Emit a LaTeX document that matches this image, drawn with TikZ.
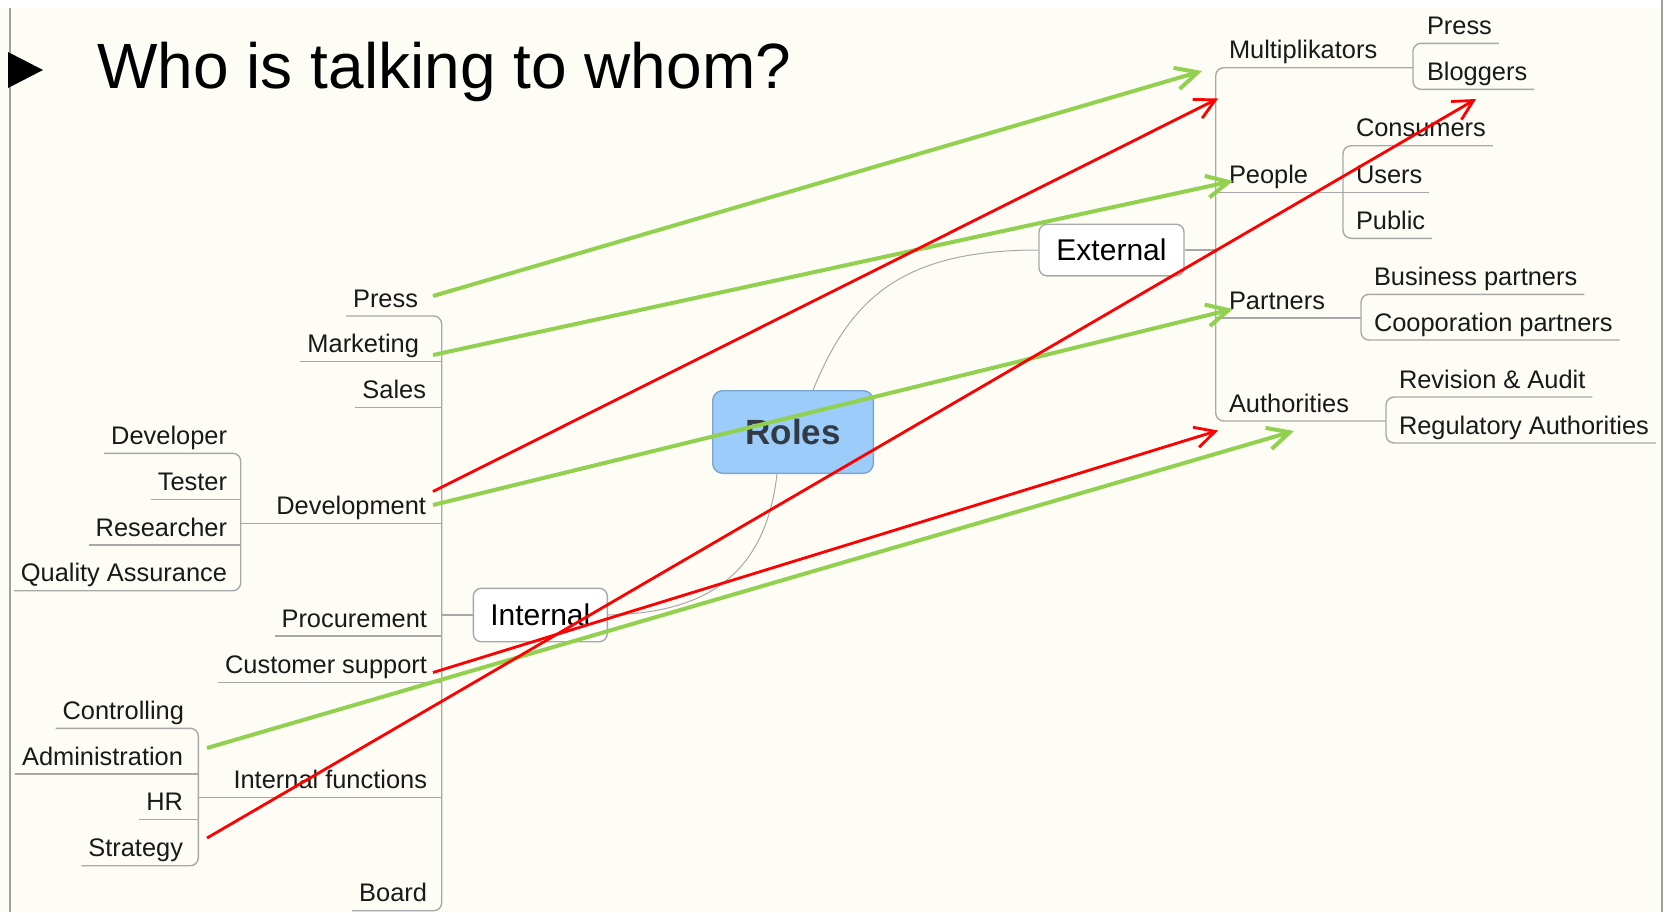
\documentclass[tikz,border=0pt]{standalone}
\usepackage{fontspec}
\setmainfont{Liberation Sans}
\usetikzlibrary{arrows.meta}
\definecolor{slidebg}{RGB}{253,253,246}
\definecolor{slideedge}{RGB}{160,160,160}
\definecolor{arrowgreen}{RGB}{146,208,80}
\definecolor{arrowred}{RGB}{255,0,0}
\definecolor{branchgray}{RGB}{168,168,168}
\definecolor{rolesfill}{RGB}{155,204,250}
\definecolor{rolesdraw}{RGB}{125,165,205}
\definecolor{rolestext}{RGB}{50,58,68}
\begin{document}
\begin{tikzpicture}[x=0.5pt,y=-0.5pt,
  lbl/.style={inner xsep=3.5pt, inner ysep=4.5pt, outer sep=0pt, text depth=0pt,
              font=\fontsize{12.7}{15}\selectfont, text=black!90},
  lleft/.style={lbl, anchor=south east},
  lright/.style={lbl, anchor=south west},
  branch/.style={draw=branchgray, line width=0.7pt},
  bracket/.style={branch, rounded corners=4pt},
  linkcurve/.style={draw=branchgray, line width=0.5pt},
  topicbox/.style={draw=branchgray, fill=white, rounded corners=4pt, line width=0.7pt,
                   font=\fontsize{15}{18}\selectfont, inner sep=0pt},
  rootbox/.style={draw=rolesdraw, fill=rolesfill, rounded corners=5pt, line width=0.7pt,
                  font=\fontsize{17.5}{21}\selectfont\bfseries, text=rolestext, inner sep=0pt,
                  minimum width=80.3pt, minimum height=41.3pt},
  greenarrow/.style={draw=arrowgreen, line width=2pt,
                     -{Straight Barb[length=11pt,width=11pt]}},
  redarrow/.style={draw=arrowred, line width=1.4pt,
                   -{Straight Barb[length=10pt,width=10.5pt]}}
]
\useasboundingbox (0,0) rectangle (1664,912);
% slide background and frame
\fill[white] (0,0) rectangle (1664,912);
\fill[slidebg] (0,8) rectangle (1664,912);
\draw[slideedge, line width=0.75pt] (10,8) -- (10,912);
\draw[slideedge, line width=0.75pt] (1662,0) -- (1662,912);

% heading
\fill[black] (8,52) -- (43,70) -- (8,88) -- cycle;
\node[anchor=base west, inner sep=0pt, font=\fontsize{32}{38}\selectfont] (title) at (97,88.5) {Who is talking to whom?};

% central topics
\node[rootbox] (roles) at (793,432) {Roles};
\node[topicbox, minimum width=72.5pt, minimum height=25.8pt] (external) at (1111.5,250) {External};
\node[topicbox, minimum width=67pt, minimum height=26.7pt] (internal) at (540.3,615) {Internal};

\draw[linkcurve] ([xshift=10pt]roles.north) .. controls (850,300) and (900,250) .. (external.west);
\draw[linkcurve] ([xshift=-8pt]roles.south) .. controls (765,580) and (700,613) .. (internal.east);

% internal branch
\node[lleft] (pressL)      at (425,316)   {Press};
\node[lleft] (marketing)   at (426,361.7) {Marketing};
\node[lleft] (sales)       at (433,407.3) {Sales};
\node[lleft] (development) at (433,523.3) {Development};
\node[lleft] (procurement) at (434,636)   {Procurement};
\node[lleft] (custsupport) at (434,682.3) {Customer support};
\node[lleft] (intfunc)     at (434,797.7) {Internal functions};
\node[lleft] (board)       at (434,910.7) {Board};

\node[lleft] (developer)  at (234,453.3) {Developer};
\node[lleft] (tester)     at (234,499.3) {Tester};
\node[lleft] (researcher) at (234,545)   {Researcher};
\node[lleft] (qa)         at (234,590.7) {Quality Assurance};

\node[lleft] (controlling)    at (191,728.3) {Controlling};
\node[lleft] (administration) at (190,774)   {Administration};
\node[lleft] (hr)             at (190,819.3) {HR};
\node[lleft] (strategy)       at (190,865.7) {Strategy};

\coordinate (xl) at (441.7,0);
\coordinate (xd) at (240.7,0);
\coordinate (xi) at (198.3,0);

\draw[branch] (internal.west) -- (internal.west -| xl);
\draw[bracket] (pressL.south west) -- (pressL.south west -| xl) -- (board.south west -| xl) -- (board.south west);
\draw[branch] (marketing.south west) -- (marketing.south west -| xl);
\draw[branch] (sales.south west) -- (sales.south west -| xl);
\draw[branch] (development.south west -| xd) -- (development.south west -| xl);
\draw[branch] (procurement.south west) -- (procurement.south west -| xl);
\draw[branch] (custsupport.south west) -- (custsupport.south west -| xl);
\draw[branch] (intfunc.south west -| xi) -- (intfunc.south west -| xl);

\draw[bracket] (developer.south west) -- (developer.south west -| xd) -- (qa.south west -| xd) -- (qa.south west);
\draw[branch] (tester.south west) -- (tester.south west -| xd);
\draw[branch] (researcher.south west) -- (researcher.south west -| xd);

\draw[bracket] (controlling.south west) -- (controlling.south west -| xi) -- (strategy.south west -| xi) -- (strategy.south west);
\draw[branch] (administration.south west) -- (administration.south west -| xi);
\draw[branch] (hr.south west) -- (hr.south west -| xi);

% external branch
\node[lright] (multi)       at (1222,67.7) {Multiplikators};
\node[lright] (people)      at (1222,192.7) {People};
\node[lright] (partners)    at (1222,318)   {Partners};
\node[lright] (authorities) at (1222,421)   {Authorities};

\node[lright] (pressR)      at (1420,43.3)  {Press};
\node[lright] (bloggers)    at (1420,89.3)  {Bloggers};
\node[lright] (consumers)   at (1349,145.7) {Consumers};
\node[lright] (users)       at (1349,192.7) {Users};
\node[lright] (public)      at (1349,238.3) {Public};
\node[lright] (business)    at (1367,294.3) {Business partners};
\node[lright] (cooperation) at (1367,340)   {Cooporation partners};
\node[lright] (revision)    at (1392,397)   {Revision \& Audit};
\node[lright] (regulatory)  at (1392,443)   {Regulatory Authorities};

\coordinate (xr) at (1215.7,0);
\coordinate (xm) at (1413,0);
\coordinate (xp) at (1343,0);
\coordinate (xpa) at (1361,0);
\coordinate (xa) at (1386,0);

\draw[branch] (external.east) -- (external.east -| xr);
\draw[bracket] (multi.south west -| xm) -- (multi.south west -| xr) -- (authorities.south west -| xr) -- (authorities.south west -| xa);
\draw[branch] (people.south west -| xr) -- (people.south west -| xp);
\draw[branch] (partners.south west -| xr) -- (partners.south west -| xpa);

\draw[bracket] (pressR.south east) -- (pressR.south east -| xm) -- (bloggers.south east -| xm) -- (bloggers.south east);
\draw[bracket] (consumers.south east) -- (consumers.south east -| xp) -- (public.south east -| xp) -- (public.south east);
\draw[branch] (users.south east -| xp) -- (users.south east);
\draw[bracket] (business.south east) -- (business.south east -| xpa) -- (cooperation.south east -| xpa) -- (cooperation.south east);
\draw[bracket] (revision.south east) -- (revision.south east -| xa) -- (regulatory.south east -| xa) -- (regulatory.south east);

% who talks to whom
\coordinate (g1s) at (433,296);   \coordinate (g1e) at (1202,71);
\coordinate (g2s) at (433,355);   \coordinate (g2e) at (1233,181);
\coordinate (g3s) at (433,505);   \coordinate (g3e) at (1233,309);
\coordinate (g4s) at (207,748);   \coordinate (g4e) at (1294,431);
\coordinate (r1s) at (433,491.5); \coordinate (r1e) at (1218,98.5);
\coordinate (r2s) at (207,838);   \coordinate (r2e) at (1476,99);
\coordinate (r3s) at (433,672.5); \coordinate (r3e) at (1218,430.5);

\draw[greenarrow] (g1s) -- (g1e);
\draw[greenarrow] (g2s) -- (g2e);
\draw[greenarrow] (g3s) -- (g3e);
\draw[greenarrow] (g4s) -- (g4e);
\draw[redarrow] (r1s) -- (r1e);
\draw[redarrow] (r2s) -- (r2e);
\draw[redarrow] (r3s) -- (r3e);
\end{tikzpicture}
\end{document}
